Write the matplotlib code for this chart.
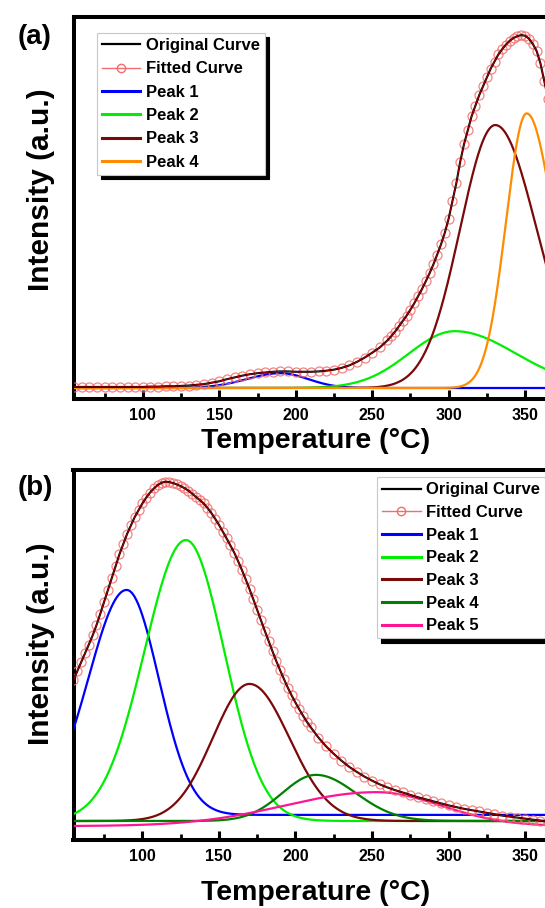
import numpy as np
import matplotlib
matplotlib.use('Agg')
import matplotlib.pyplot as plt
from matplotlib.lines import Line2D

plt.rcParams['font.family'] = ['Liberation Sans', 'DejaVu Sans']

# ---------------- data: panel (a) ----------------
a_temp = [55, 60, 65, 70, 75, 80, 85, 90, 95, 100, 105, 110, 115, 120, 125, 130, 135, 140,
          145, 150, 155, 160, 165, 170, 175, 180, 185, 190, 195, 200, 205, 210, 215, 220,
          225, 230, 235, 240, 245, 250, 255, 260, 262.5, 265, 267.5, 270, 272.5, 275, 277.5,
          280, 282.5, 285, 287.5, 290, 292.5, 295, 297.5, 300, 302.5, 305, 307.5, 310, 312.5,
          315, 317.5, 320, 322.5, 325, 327.5, 330, 332.5, 335, 337.5, 340, 342.5, 345, 347.5,
          350, 352.5, 355, 357.5, 360, 362.5, 365, 367.5, 370]
a_original = [0.003, 0.003, 0.003, 0.003, 0.003, 0.003, 0.003, 0.003, 0.003, 0.003, 0.004, 0.004,
              0.005, 0.005, 0.006, 0.007, 0.009, 0.011, 0.015, 0.019, 0.025, 0.030, 0.035, 0.039,
              0.042, 0.044, 0.046, 0.047, 0.047, 0.046, 0.046, 0.046, 0.047, 0.049, 0.052, 0.057,
              0.064, 0.074, 0.086, 0.100, 0.115, 0.135, 0.147, 0.160, 0.175, 0.190, 0.205, 0.222,
              0.240, 0.260, 0.280, 0.302, 0.325, 0.350, 0.378, 0.407, 0.440, 0.480, 0.530, 0.580,
              0.640, 0.690, 0.730, 0.770, 0.800, 0.830, 0.855, 0.880, 0.905, 0.925, 0.945, 0.960,
              0.973, 0.984, 0.992, 0.997, 1.000, 0.998, 0.990, 0.975, 0.955, 0.920, 0.870, 0.820,
              0.770, 0.720]
a_peak_names = ['Peak 1', 'Peak 2', 'Peak 3', 'Peak 4']
a_peak_center = [190, 304, 330.5, 351]
a_peak_height = [0.042, 0.161, 0.745, 0.778]
a_peak_wleft = [22, 30, 23, 13.5]
a_peak_wright = [18, 40, 27, 18]
a_peak_base = [0.0, 0.0, 0.0, 0.0]

# ---------------- data: panel (b) ----------------
b_temp = [55, 57.5, 60, 62.5, 65, 67.5, 70, 72.5, 75, 77.5, 80, 82.5, 85, 87.5, 90, 92.5, 95,
          97.5, 100, 102.5, 105, 107.5, 110, 112.5, 115, 117.5, 120, 122.5, 125, 127.5, 130,
          132.5, 135, 137.5, 140, 142.5, 145, 147.5, 150, 152.5, 155, 157.5, 160, 162.5, 165,
          167.5, 170, 172.5, 175, 177.5, 180, 182.5, 185, 187.5, 190, 192.5, 195, 197.5, 200,
          202.5, 205, 207.5, 210, 215, 220, 225, 230, 235, 240, 245, 250, 255, 260, 265, 270,
          275, 280, 285, 290, 295, 300, 305, 310, 315, 320, 325, 330, 335, 340, 345, 350, 355,
          360, 365, 370]
b_original = [0.415, 0.442, 0.468, 0.494, 0.520, 0.547, 0.577, 0.611, 0.646, 0.681, 0.716, 0.751,
              0.786, 0.816, 0.846, 0.871, 0.896, 0.916, 0.936, 0.953, 0.968, 0.980, 0.990, 0.997,
              1.000, 0.999, 0.996, 0.992, 0.987, 0.981, 0.974, 0.965, 0.955, 0.946, 0.936, 0.923,
              0.908, 0.891, 0.873, 0.853, 0.833, 0.812, 0.791, 0.766, 0.740, 0.712, 0.683, 0.653,
              0.622, 0.591, 0.560, 0.530, 0.500, 0.471, 0.444, 0.418, 0.393, 0.370, 0.349, 0.329,
              0.310, 0.292, 0.276, 0.246, 0.220, 0.198, 0.178, 0.160, 0.145, 0.131, 0.119, 0.108,
              0.099, 0.091, 0.084, 0.077, 0.070, 0.064, 0.058, 0.052, 0.046, 0.041, 0.036, 0.032,
              0.028, 0.024, 0.020, 0.016, 0.013, 0.010, 0.007, 0.004, 0.001, -0.002, -0.004]
b_peak_names = ['Peak 1', 'Peak 2', 'Peak 3', 'Peak 4', 'Peak 5']
b_peak_center = [89.7, 128.4, 170, 213.4, 253]
b_peak_height = [0.663, 0.828, 0.404, 0.136, 0.100]
b_peak_wleft = [25, 27, 24, 22, 60]
b_peak_wright = [21, 25, 26, 26, 42]
b_peak_base = [0.018, 0.0, 0.0, 0.0, -0.015]

x_ticks = [100, 150, 200, 250, 300, 350]

# ---------------- styles ----------------
a_colors = ['#0000FF', '#00EE00', '#7A0A0A', '#FF8C00']
b_colors = ['#0000FF', '#00EE00', '#7A0A0A', '#008000', '#FF1493']
FIT_COLOR = '#F26D6D'

W, H = 545, 908
fig = plt.figure(figsize=(W / 100, H / 100), dpi=100)
fig.patch.set_facecolor('white')


def px_axes(left, top, right, bottom):
    return fig.add_axes([left / W, 1 - bottom / H, (right - left) / W, (bottom - top) / H])


def split_gauss(t, c, h, wl, wr, base):
    w = np.where(t < c, wl, wr)
    return base + h * np.exp(-0.5 * ((t - c) / w) ** 2)


def draw_panel(ax, temp, orig, names, centers, heights, wl, wr, base, colors, ylim):
    grid = np.linspace(55, 372, 800)
    for n, c, h, l, r, b, col in zip(names, centers, heights, wl, wr, base, colors):
        ax.plot(grid, split_gauss(grid, c, h, l, r, b), color=col, lw=1.6, zorder=3)
    ax.plot(temp, orig, linestyle='none', marker='o', mfc='none', mec=FIT_COLOR,
            ms=6.5, mew=0.9, alpha=0.85, zorder=4)
    ax.plot(temp, orig, color='black', lw=1.5, zorder=5)
    ax.plot(temp, orig, color='#E00000', lw=0.7, alpha=0.8, zorder=6)
    ax.set_xlim(55, 371.5)
    ax.set_ylim(*ylim)
    ax.set_xticks(x_ticks)
    ax.set_xticks([75, 125, 175, 225, 275, 325], minor=True)
    ax.set_yticks([])
    for s in ax.spines.values():
        s.set_linewidth(2.9)
    ax.tick_params(axis='x', which='major', direction='in', length=6.5, width=2.2,
                   labelsize=11.5, pad=6.5)
    ax.tick_params(axis='x', which='minor', direction='in', length=4.2, width=2.0)
    ax.tick_params(top=False, right=False, left=False)
    for lab in ax.get_xticklabels():
        lab.set_fontweight('bold')
    fit_handle = Line2D([0, 1, 2], [0, 0, 0], color=FIT_COLOR, lw=1.0, marker='o', mfc='none',
                        mec=FIT_COLOR, ms=6, mew=1.0, markevery=[1])
    handles = [Line2D([], [], color='black', lw=1.6), fit_handle]
    handles += [Line2D([], [], color=col, lw=2.2) for col in colors]
    labels = ['Original Curve', 'Fitted Curve'] + list(names)
    return handles, labels


def add_legend(ax, handles, labels, anchor, spacing):
    leg = ax.legend(handles, labels, loc='upper left', bbox_to_anchor=anchor, borderaxespad=0,
                    prop={'weight': 'bold', 'size': 12}, handlelength=2.3, handletextpad=0.35,
                    labelspacing=spacing, borderpad=0.3, fancybox=False, framealpha=1,
                    shadow={'ox': 3, 'oy': -3, 'color': 'black', 'alpha': 1})
    leg.get_frame().set_edgecolor('#C8C8C8')
    leg.get_frame().set_linewidth(0.8)
    return leg


# panel (a)
ax_a = px_axes(74, 16.7, 558, 399.3)
h, l = draw_panel(ax_a, a_temp, a_original, a_peak_names, a_peak_center, a_peak_height,
                  a_peak_wleft, a_peak_wright, a_peak_base, a_colors, (-0.032, 1.052))
add_legend(ax_a, h, l, (0.047, 0.957), 0.5)

# panel (b)
ax_b = px_axes(73.5, 470, 558, 840)
h, l = draw_panel(ax_b, b_temp, b_original, b_peak_names, b_peak_center, b_peak_height,
                  b_peak_wleft, b_peak_wright, b_peak_base, b_colors, (-0.056, 1.0345))
add_legend(ax_b, h, l, (0.627, 0.980), 0.46)

# texts
fig.text(316 / W, 1 - 441.5 / H, 'Temperature (°C)', ha='center', va='center',
         fontsize=20.5, fontweight='bold')
fig.text(316 / W, 1 - 893 / H, 'Temperature (°C)', ha='center', va='center',
         fontsize=20.5, fontweight='bold')
fig.text(41 / W, 1 - 190 / H, 'Intensity (a.u.)', ha='center', va='center', rotation=90,
         fontsize=21.5, fontweight='bold')
fig.text(41 / W, 1 - 644 / H, 'Intensity (a.u.)', ha='center', va='center', rotation=90,
         fontsize=21.5, fontweight='bold')
fig.text(35 / W, 1 - 37 / H, '(a)', ha='center', va='center', fontsize=20, fontweight='bold')
fig.text(35 / W, 1 - 488 / H, '(b)', ha='center', va='center', fontsize=20, fontweight='bold')

fig.savefig('out.png', dpi=100)
